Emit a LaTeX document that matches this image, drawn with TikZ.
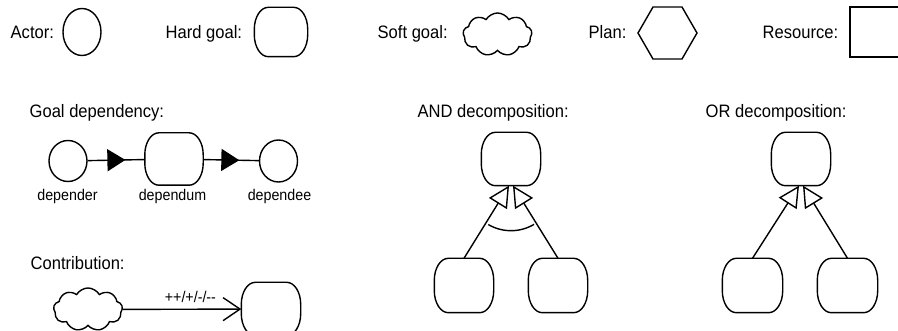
\documentclass[tikz,border=0pt]{standalone}
\usepackage{fontspec}
\setmainfont{Liberation Sans}[FakeStretch=0.92]
\usetikzlibrary{shapes.geometric,shapes.symbols,arrows.meta,decorations.markings,calc}
\begin{document}
\begin{tikzpicture}[x=1pt,y=-1pt,line width=1.4pt,
  txt/.style={inner sep=0,anchor=base west,font=\fontsize{18}{20}\selectfont},
  lbl/.style={inner sep=0,anchor=base,font=\fontsize{15.5}{18}\selectfont},
  actor/.style={draw,ellipse,minimum width=38pt,minimum height=44pt,inner sep=0},
  hardgoal/.style n args={2}{rectangle,inner sep=0,minimum width=#1,minimum height=#2,
    append after command={\pgfextra{\let\hgn\tikzlastnode
      \draw ($(\hgn.north west)+(14,0)$) -- ($(\hgn.north east)+(-14,0)$)
        arc[start angle=-90,end angle=0,x radius=14,y radius=22]
        -- ($(\hgn.south east)+(0,-22)$)
        arc[start angle=0,end angle=90,x radius=14,y radius=22]
        -- ($(\hgn.south west)+(14,0)$)
        arc[start angle=90,end angle=180,x radius=14,y radius=22]
        -- ($(\hgn.north west)+(0,22)$)
        arc[start angle=180,end angle=270,x radius=14,y radius=22] -- cycle;}}},
  softgoal/.style={draw,cloud,cloud puffs=9,cloud puff arc=120,aspect=1.6,minimum width=69pt,minimum height=43pt,inner sep=0},
  resource/.style={draw,rectangle,minimum width=62pt,minimum height=50pt,inner sep=0},
  depline/.style={postaction={decorate},decoration={markings,mark=at position #1 with {\arrow{Triangle[length=18pt,width=22pt]}}}},
  decomp/.style={-{Triangle[open,length=21pt,width=21pt]}},
  contrib/.style={-{Straight Barb[length=17pt,width=23pt]}}
]
\useasboundingbox (0,0) rectangle (898,331);
% top row
\node[txt] (tactor) at (10,39) {Actor:};
\node[actor,minimum height=47pt] (actor) at (82,32) {};
\node[txt] (thard) at (165,39) {Hard goal:};
\node[hardgoal={52pt}{48pt}] (hard) at (281,32) {};
\node[txt] (tsoft) at (377,39) {Soft goal:};
\node[softgoal] (soft) at (497.5,34.5) {};
\node[txt] (tplan) at (588,39) {Plan:};
\draw (638,33) -- (653,7) -- (682,7) -- (697,33) -- (682,59) -- (653,59) -- cycle;
\node[txt] (tres) at (762,39) {Resource:};
\node[resource] (res) at (881,32) {};
% goal dependency
\node[txt] (tgd) at (29,118) {Goal dependency:};
\node[actor,minimum height=41pt] (dr) at (68,161) {};
\node[hardgoal={57pt}{51pt}] (dm) at (174,159) {};
\node[actor,minimum height=42pt] (de) at (278.5,161) {};
\draw[depline=0.66] (dr) -- (dm);
\draw[depline=0.65] (dm) -- (de);
\node[lbl] at (67.5,201) {depender};
\node[lbl] at (172.5,201) {dependum};
\node[lbl] at (279.5,201) {dependee};
% contribution
\node[txt] (tco) at (30,270) {Contribution:};
\node[softgoal] (cs) at (88,309.5) {};
\node[hardgoal={58pt}{52pt}] (ct) at (271,309) {};
\draw[contrib] (cs) -- node[lbl,pos=0.57,above=7pt,anchor=base] {++/+/-/-{}-} (ct);
% AND decomposition
\node[txt] (tand) at (417,118) {AND decomposition:};
\node[hardgoal={58pt}{52pt}] (at) at (511,159) {};
\node[hardgoal={58pt}{53pt}] (al) at (464,285.5) {};
\node[hardgoal={58pt}{53pt}] (ar) at (558,285.5) {};
\coordinate (atl) at ([xshift=-2pt]at.south);
\coordinate (atr) at ([xshift=2pt]at.south);
\draw[decomp] (al.north) -- (atl);
\draw[decomp] (ar.north) -- (atr);
\draw ($(at.south)+(120.3:45)$) arc[start angle=120.3,end angle=59.2,radius=45];
% OR decomposition
\node[txt] (tor) at (705,118) {OR decomposition:};
\node[hardgoal={58pt}{52pt}] (ot) at (801,159) {};
\node[hardgoal={59pt}{53pt}] (ol) at (752.5,285.5) {};
\node[hardgoal={59pt}{53pt}] (or) at (847.5,285.5) {};
\coordinate (otl) at ([xshift=-2pt]ot.south);
\coordinate (otr) at ([xshift=2pt]ot.south);
\draw[decomp] (ol.north) -- (otl);
\draw[decomp] (or.north) -- (otr);
\end{tikzpicture}
\end{document}
